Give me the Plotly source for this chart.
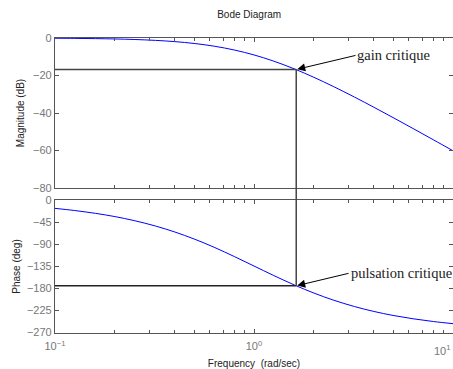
import plotly.graph_objects as go
import math

# Frequency (rad/sec) and Bode response
freq = [0.1, 0.125, 0.16, 0.2, 0.25, 0.32, 0.4, 0.5, 0.63, 0.8, 1.0,
        1.25, 1.6, 2.0, 2.5, 3.2, 4.0, 5.0, 6.3, 8.0, 10.0]
magnitude_db = [-0.13, -0.20, -0.33, -0.51, -0.79, -1.27, -1.93, -2.91, -4.35, -6.45, -9.03,
                -12.26, -16.54, -20.97, -25.81, -31.52, -36.91, -42.45, -48.28, -54.39, -60.13]
phase_deg = [-17.1, -21.4, -27.3, -33.9, -42.1, -53.2, -65.4, -79.7, -96.6, -116.0, -135.0,
             -154.0, -174.0, -190.3, -204.6, -217.9, -227.9, -236.1, -242.9, -248.6, -252.9]

# critical point
w_crit = 1.63
gain_crit = -16.8
phase_crit = -175.5

mag_ticks = [0, -20, -40, -60, -80]
phase_ticks = [0, -45, -90, -135, -180, -225, -270]
x_ticks = [0.1, 1, 10]
x_ticktext = ["10<sup>−1</sup>", "10<sup>0</sup>", "10<sup>1</sup>"]
minor_x = [m * d for d in (0.1, 1) for m in range(2, 10)]

fig = go.Figure()
fig.add_trace(go.Scatter(x=freq, y=magnitude_db, mode="lines", line=dict(color="#0000ff", width=1, shape="spline"),
                         xaxis="x", yaxis="y", showlegend=False))
fig.add_trace(go.Scatter(x=freq, y=phase_deg, mode="lines", line=dict(color="#0000ff", width=1, shape="spline"),
                         xaxis="x2", yaxis="y2", showlegend=False))

lc = "#444444"
# horizontal lines
fig.add_shape(type="line", xref="x", yref="y", x0=freq[0], x1=w_crit, y0=gain_crit, y1=gain_crit,
              line=dict(color=lc, width=1.5))
fig.add_shape(type="line", xref="x2", yref="y2", x0=freq[0], x1=w_crit, y0=phase_crit, y1=phase_crit,
              line=dict(color="#222222", width=1.5))
# vertical line across both panels
fig.add_shape(type="line", xref="x", yref="y", x0=w_crit, x1=w_crit, y0=gain_crit, y1=mag_ticks[-1],
              line=dict(color=lc, width=1.5))
fig.add_shape(type="line", xref="x2", yref="paper", x0=w_crit, x1=w_crit, y0=0.4508, y1=0.4915,
              line=dict(color=lc, width=1.5))
fig.add_shape(type="line", xref="x2", yref="y2", x0=w_crit, x1=w_crit, y0=0, y1=phase_crit,
              line=dict(color=lc, width=1.5))

serif = dict(family="Liberation Serif, DejaVu Serif, serif", size=14.5, color="#222222")
fig.add_annotation(x=math.log10(w_crit), y=gain_crit, xref="x", yref="y",
                   ax=0.51, ay=-9.3, axref="x", ayref="y", text="gain critique",
                   xanchor="left", showarrow=True, arrowhead=2, arrowsize=1.6, arrowwidth=1,
                   arrowcolor="black", font=serif, standoff=1)
fig.add_annotation(x=math.log10(w_crit), y=phase_crit, xref="x2", yref="y2",
                   ax=0.475, ay=-150, axref="x2", ayref="y2", text="pulsation critique",
                   xanchor="left", showarrow=True, arrowhead=2, arrowsize=1.6, arrowwidth=1,
                   arrowcolor="black", font=serif, standoff=1)

axcol = "#555555"
tickfont = dict(family="Liberation Sans, Arial, sans-serif", size=11, color="#777777")
# last decade label, kept inside the page at its right edge
fig.add_annotation(x=1.0, y=-0.057, xref="paper", yref="paper", text=x_ticktext[-1],
                   showarrow=False, xanchor="right", yanchor="middle", font=tickfont)

common_x = dict(type="log", range=[-1, 1], showline=True, linecolor=axcol, linewidth=1.2, mirror="ticks",
                ticks="inside", ticklen=4, tickcolor=axcol, tickvals=x_ticks, ticktext=x_ticktext,
                showgrid=False, zeroline=False,
                minor=dict(tickvals=minor_x, ticks="inside", ticklen=3, tickcolor=axcol),
                tickfont=tickfont)
common_y = dict(showline=True, linecolor=axcol, linewidth=1.2, mirror="ticks", ticks="inside", ticklen=4,
                tickcolor=axcol, showgrid=False, zeroline=False, tickfont=tickfont)

fig.update_layout(
    width=453, height=369,
    margin=dict(l=55, r=0, t=38, b=36),
    plot_bgcolor="white", paper_bgcolor="white",
    font=dict(family="Liberation Sans, Arial, sans-serif", size=10, color="#222222"),
    title=dict(text="Bode Diagram", x=0.55, xanchor="center", y=0.962, yanchor="middle",
               font=dict(size=10, color="#222222")),
    xaxis=dict(common_x, domain=[0, 1], anchor="y", showticklabels=False, matches="x2"),
    yaxis=dict(common_y, domain=[0.4915, 1], range=[-80, 0], tickvals=mag_ticks,
               title=dict(text="Magnitude (dB)", standoff=6, font=dict(size=10, color="#222222"))),
    xaxis2=dict(common_x, domain=[0, 1], anchor="y2", ticklabelstandoff=3,
                title=dict(text="Frequency  (rad/sec)", standoff=9, font=dict(size=10, color="#222222"))),
    yaxis2=dict(common_y, domain=[0, 0.4508], range=[-272, 0], tickvals=phase_ticks, anchor="x2",
                title=dict(text="Phase (deg)", standoff=4, font=dict(size=10, color="#222222"))),
)

fig.write_html("out.html")
